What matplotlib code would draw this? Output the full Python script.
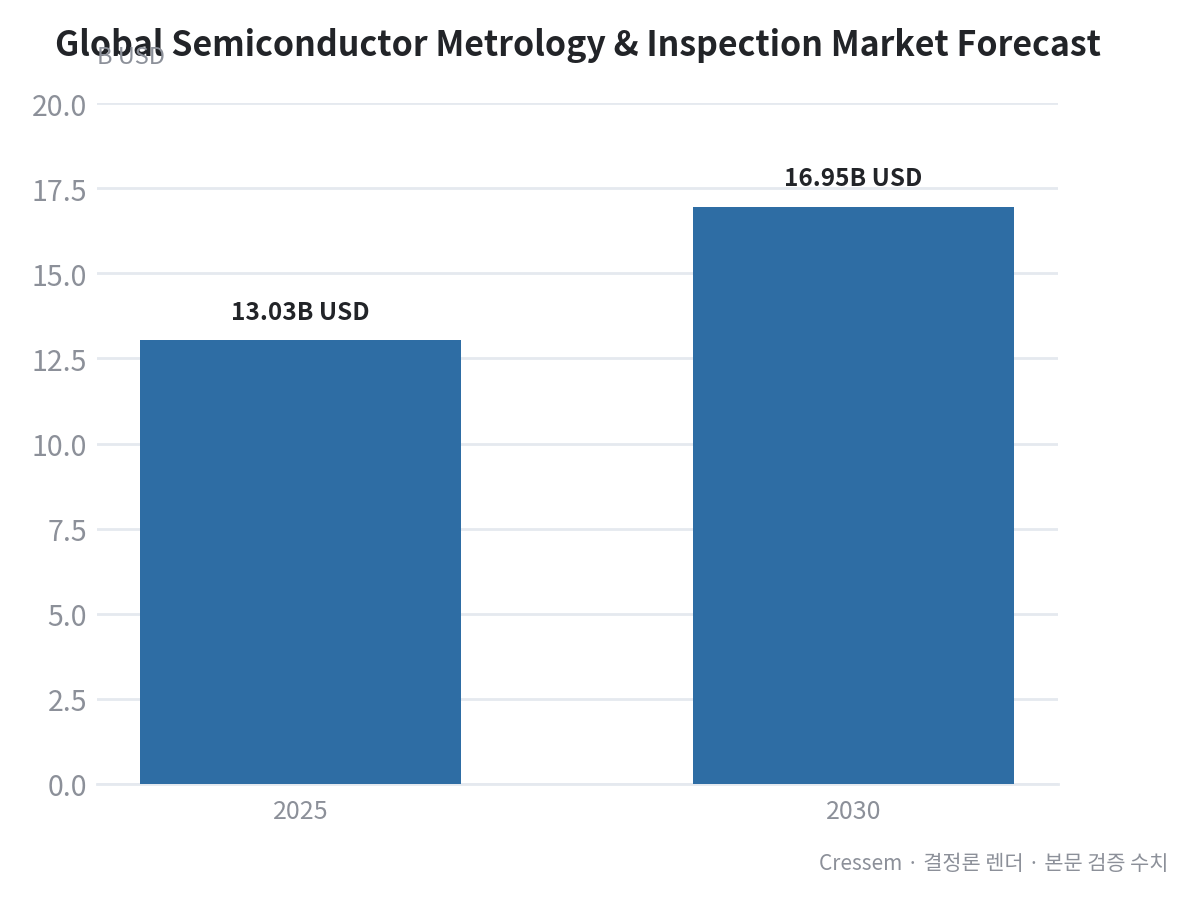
import matplotlib.pyplot as plt

plt.rcParams['font.family'] = ['Noto Sans CJK KR', 'DejaVu Sans']

# Datos
years = ["2025", "2030"]
values = [13.03, 16.95]
bar_labels = ["13.03B USD", "16.95B USD"]
yticks = [0.0, 2.5, 5.0, 7.5, 10.0, 12.5, 15.0, 17.5, 20.0]

fig = plt.figure(figsize=(11.97, 9.03), dpi=100)
ax = fig.add_axes([0.081, 0.1307, 0.803, 0.7541])

x = range(len(years))
bars = ax.bar(x, values, width=0.58, color="#2e6da4", zorder=3)

for b, lab in zip(bars, bar_labels):
    ax.annotate(lab, (b.get_x() + b.get_width() / 2, b.get_height()),
                xytext=(0, 12), textcoords="offset points",
                ha="center", va="bottom", fontsize=17.5, color="#222428",
                fontweight="bold")

ax.set_xlim(-0.368, 1.37)
ax.set_ylim(0, 20)
ax.set_xticks(list(x))
ax.set_xticklabels(years)
ax.set_yticks(yticks)
ax.set_yticklabels([f"{v:.1f}" for v in yticks])

ax.grid(axis="y", color="#e5e9ef", linewidth=2, zorder=0)
ax.tick_params(axis="both", length=0, colors="#8c9099")
ax.tick_params(axis="y", labelsize=20.5, pad=7)
ax.tick_params(axis="x", labelsize=18, pad=10)
for s in ["top", "right", "left"]:
    ax.spines[s].set_visible(False)
ax.spines["bottom"].set_color("#e5e9ef")
ax.spines["bottom"].set_linewidth(2)

fig.text(0.046, 0.950, "Global Semiconductor Metrology & Inspection Market Forecast",
         fontsize=24.4, color="#222428", fontweight="bold", va="center", ha="left")
fig.text(0.081, 0.936, "B USD", fontsize=17, color="#8c9099", va="center", ha="left")
fig.text(0.976, 0.043, "Cressem · 결정론 렌더 · 본문 검증 수치",
         fontsize=15, color="#8c9099", va="center", ha="right")

fig.savefig("out.png", dpi=100)
